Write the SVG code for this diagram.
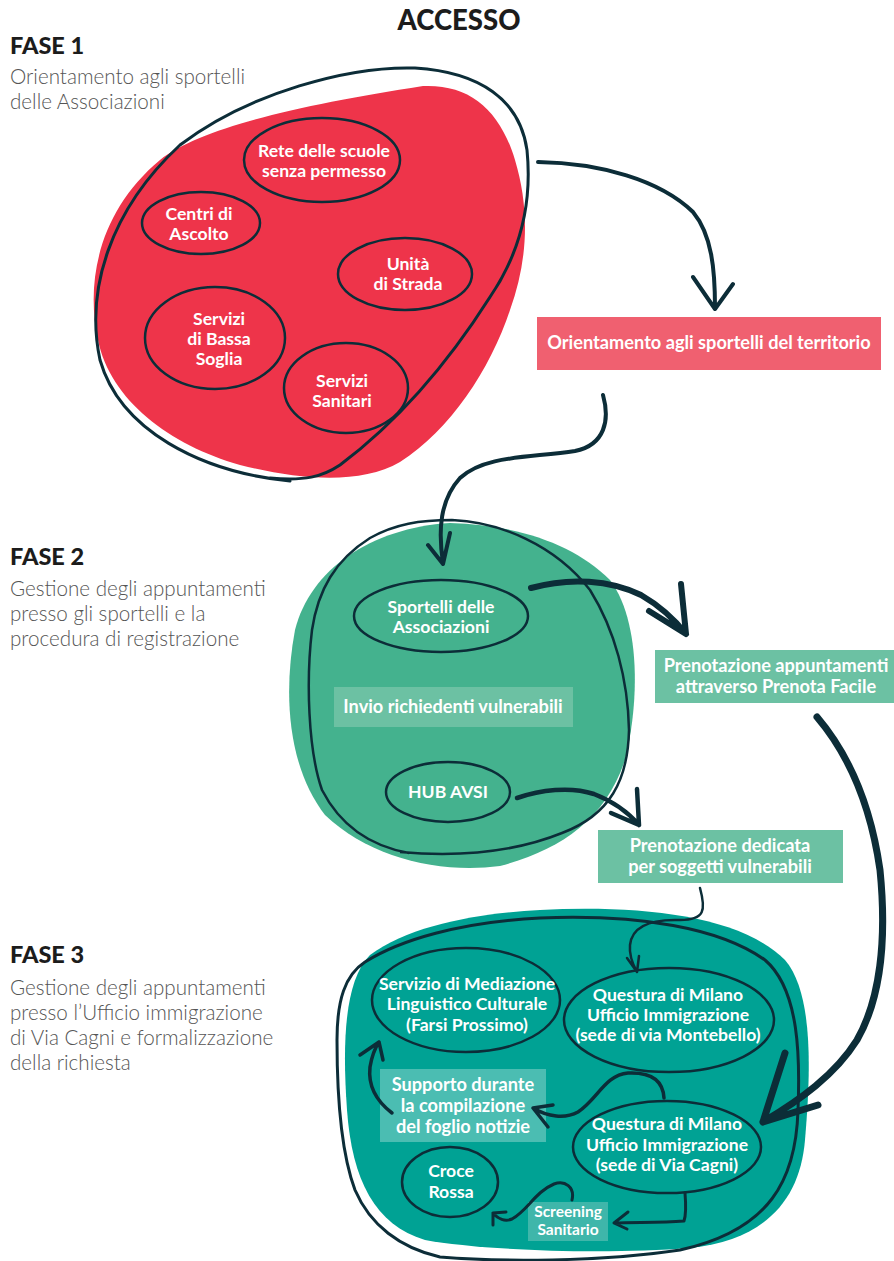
<svg xmlns="http://www.w3.org/2000/svg" width="894" height="1261" viewBox="0 0 894 1261">
<style>
text{font-family:Lato,"Liberation Sans",sans-serif}
.title{font-weight:900;font-size:27.5px;fill:#1c1c1c;text-anchor:middle}
.fase{font-weight:900;font-size:23.5px;fill:#1c1c1c}
.desc{font-weight:300;font-size:20.6px;fill:#555}
.n{font-weight:700;font-size:17.6px;fill:#fff;text-anchor:middle}
.b{font-weight:700;font-size:18.2px;fill:#fff;text-anchor:middle}
.s{font-weight:700;font-size:15.5px;fill:#fff;text-anchor:middle}
.ol{fill:none;stroke:#0c2d38;stroke-width:2.5}
.lp{fill:none;stroke:#0c2d38;stroke-width:3;stroke-linecap:round}
.a{fill:none;stroke:#0c2d38;stroke-linecap:round;stroke-linejoin:round}
</style>
<rect width="894" height="1261" fill="#fff"/>
<text class="title" x="459" y="30">ACCESSO</text>

<g id="fase1-label">
<text class="fase" x="10" y="54">FASE 1</text>
<text class="desc" x="10" y="84">Orientamento agli sportelli</text>
<text class="desc" x="10" y="109">delle Associazioni</text>
</g>
<g id="fase2-label">
<text class="fase" x="10" y="565">FASE 2</text>
<text class="desc" x="10" y="596">Gestione degli appuntamenti</text>
<text class="desc" x="10" y="621">presso gli sportelli e la</text>
<text class="desc" x="10" y="646">procedura di registrazione</text>
</g>
<g id="fase3-label">
<text class="fase" x="10" y="963">FASE 3</text>
<text class="desc" x="10" y="995">Gestione degli appuntamenti</text>
<text class="desc" x="10" y="1020">presso l’Ufficio immigrazione</text>
<text class="desc" x="10" y="1045">di Via Cagni e formalizzazione</text>
<text class="desc" x="10" y="1070">della richiesta</text>
</g>

<!-- FASE 1 blob -->
<g id="fase1-area">
<path fill="#ee344a" d="M423,86 C470,84 500,110 515,160 C530,210 528,260 510,310 C490,370 450,430 400,462 C360,485 300,480 240,465 C170,445 110,400 98,340 C85,280 100,210 160,160 C200,128 300,105 423,86 Z"/>
<path class="lp" d="M290,481 C200,472 120,430 100,360 C85,290 110,210 180,145 C250,92 350,66 415,68 C480,72 520,100 527,150 C532,200 522,250 490,297 C450,360 400,420 340,465 C322,477 305,481 270,478"/>
</g>
<g id="rete"><ellipse class="ol" cx="322" cy="160" rx="78" ry="42"/><text class="n" x="324" y="157">Rete delle scuole</text><text class="n" x="324" y="177">senza permesso</text></g>
<g id="centri"><ellipse class="ol" cx="201" cy="223" rx="59" ry="31"/><text class="n" x="199" y="220">Centri di</text><text class="n" x="199" y="240">Ascolto</text></g>
<g id="unita"><ellipse class="ol" cx="405" cy="274" rx="67" ry="36"/><text class="n" x="408" y="270">Unità</text><text class="n" x="408" y="290">di Strada</text></g>
<g id="bassa"><ellipse class="ol" cx="215" cy="338" rx="70" ry="51"/><text class="n" x="219" y="325">Servizi</text><text class="n" x="219" y="345">di Bassa</text><text class="n" x="219" y="365">Soglia</text></g>
<g id="sanitari"><ellipse class="ol" cx="346" cy="388" rx="62" ry="45"/><text class="n" x="342" y="387">Servizi</text><text class="n" x="342" y="407">Sanitari</text></g>

<g id="orientamento"><rect x="537" y="317" width="344" height="53" fill="#f06070"/><text class="b" x="709" y="349">Orientamento agli sportelli del territorio</text></g>

<!-- FASE 2 blob -->
<g id="fase2-area">
<path fill="#44b28e" d="M450,523 C520,525 575,545 610,580 C640,620 640,700 625,760 C605,820 560,850 500,866 C440,874 370,858 325,815 C290,770 282,700 295,630 C310,570 370,528 450,523 Z"/>
<path class="ol" d="M409,853 C370,846 340,825 322,790 C308,750 306,680 312,630 C318,590 335,560 370,538 C395,524 420,520 452,520 C500,522 555,545 590,590 C615,630 628,680 629,730 C628,780 610,815 562,833 C520,850 470,858 400,852"/>
</g>
<g id="sportelli"><ellipse class="ol" cx="441" cy="616" rx="87" ry="36"/><text class="n" x="441" y="613">Sportelli delle</text><text class="n" x="441" y="633">Associazioni</text></g>
<g id="invio"><rect x="334" y="687" width="239" height="40" fill="#6cc1a3"/><text class="b" x="453" y="713">Invio richiedenti vulnerabili</text></g>
<g id="hub"><ellipse class="ol" cx="448" cy="792" rx="62" ry="30"/><text class="n" x="448" y="798">HUB AVSI</text></g>

<g id="prenota-facile"><rect x="655" y="650" width="239" height="53" fill="#6cc1a3"/><text class="b" x="776" y="672">Prenotazione appuntamenti</text><text class="b" x="776" y="693">attraverso Prenota Facile</text></g>
<g id="prenota-dedicata"><rect x="598" y="830" width="245" height="53" fill="#6cc1a3"/><text class="b" x="720" y="852">Prenotazione dedicata</text><text class="b" x="720" y="873">per soggetti vulnerabili</text></g>

<!-- FASE 3 blob -->
<g id="fase3-area">
<path fill="#00a294" d="M540,910 C640,905 740,915 785,960 C815,995 810,1080 805,1140 C800,1200 765,1240 690,1248 C600,1255 480,1250 425,1240 C375,1225 352,1180 347,1110 C342,1040 345,980 370,955 C410,925 480,913 540,910 Z"/>
<path class="lp" d="M337,1040 C337,1000 345,975 365,962 C400,940 460,922 540,918 C640,914 720,928 765,960 C800,990 800,1060 798,1110 C796,1180 770,1230 680,1250 C600,1262 500,1262 440,1257 C400,1248 370,1225 355,1190 C340,1150 337,1090 337,1040 Z"/>
</g>
<g id="mediazione"><ellipse class="ol" cx="466" cy="1000" rx="94" ry="52"/><text class="n" x="467" y="990">Servizio di Mediazione</text><text class="n" x="467" y="1010">Linguistico Culturale</text><text class="n" x="467" y="1031">(Farsi Prossimo)</text></g>
<g id="montebello"><ellipse class="ol" cx="669" cy="1020" rx="105" ry="52"/><text class="n" x="668" y="1001">Questura di Milano</text><text class="n" x="668" y="1021">Ufficio Immigrazione</text><text class="n" x="668" y="1041">(sede di via Montebello)</text></g>
<g id="supporto"><rect x="380" y="1069" width="166" height="73" fill="#4bbdb2"/><text class="b" x="463" y="1091">Supporto durante</text><text class="b" x="463" y="1112">la compilazione</text><text class="b" x="463" y="1133">del foglio notizie</text></g>
<g id="cagni"><ellipse class="ol" cx="667" cy="1147" rx="94" ry="46"/><text class="n" x="667" y="1130">Questura di Milano</text><text class="n" x="667" y="1151">Ufficio Immigrazione</text><text class="n" x="667" y="1171">(sede di Via Cagni)</text></g>
<g id="croce"><ellipse class="ol" cx="450" cy="1182" rx="48" ry="35"/><text class="n" x="451" y="1177">Croce</text><text class="n" x="451" y="1198">Rossa</text></g>
<g id="screening"><rect x="528" y="1202" width="80" height="39" fill="#3fb6aa"/><text class="s" x="568" y="1217">Screening</text><text class="s" x="568" y="1235">Sanitario</text></g>

<g id="connectors">
<path class="a" stroke-width="4" d="M538,162 C600,163 660,180 693,212 C712,235 715,270 715,308 M693,277 L715,309 L733,284"/>
<path class="a" stroke-width="4" d="M603,395 C610,420 605,445 575,451 C530,458 485,455 460,478 C440,500 438,530 443,563 M428,545 L443,564 L450,533"/>
<path class="a" stroke-width="6" d="M531,588 C570,577 610,580 641,595 C660,606 675,620 686,634 M649,611 L686,634 L681,584"/>
<path class="a" stroke-width="4.5" d="M517,798 C540,790 570,786 594,794 C612,801 628,812 639,825 M611,813 L639,825 L637,789"/>
<path class="a" stroke-width="7" d="M817,717 C845,750 870,800 880,870 C887,940 880,1000 857,1040 C835,1075 800,1100 763,1122 M785,1053 L763,1122 L818,1105"/>
<path class="a" stroke-width="2.5" d="M700,888 C706,910 705,920 680,920 C650,919 632,926 630,945 C629,955 632,963 637,972 M627,958 L637,972 L639,956"/>
<path class="a" stroke-width="3.5" d="M664,1098 C663,1080 650,1072 628,1073 C605,1075 597,1100 578,1112 C565,1119 548,1117 533,1108 M553,1105 L533,1108 L548,1127"/>
<path class="a" stroke-width="3.5" d="M392,1113 C375,1100 368,1085 370,1067 C372,1055 375,1048 379,1042 M360,1055 L379,1042 L383,1060"/>
<path class="a" stroke-width="3" d="M685,1193 C686,1205 686,1215 684,1221 C660,1223 635,1222 614,1223 M628,1212 L614,1223 L627,1229"/>
<path class="a" stroke-width="3" d="M572,1200 C575,1187 565,1180 554,1184 C535,1192 528,1210 512,1219 C505,1222 498,1219 493,1213 M493,1225 L493,1213 L506,1212"/>
</g>
</svg>
